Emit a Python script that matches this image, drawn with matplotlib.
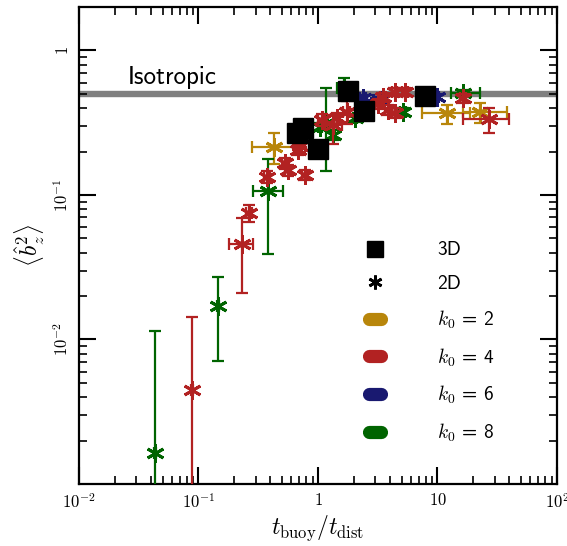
import os
import matplotlib
matplotlib.use("Agg")
import matplotlib.pyplot as plt
import numpy as np
from matplotlib.lines import Line2D
from matplotlib import font_manager

plt.rcParams['mathtext.fontset'] = 'cm'
cmss_path = os.path.join(matplotlib.get_data_path(), 'fonts', 'ttf', 'cmss10.ttf')
font_manager.fontManager.addfont(cmss_path)
SANS = ['cmss10', 'DejaVu Sans']
plt.rcParams['font.family'] = SANS

# ---------------- data ----------------
# 3D runs
x3d = [0.667, 0.749, 1.00, 1.78, 2.43, 7.86]
y3d = [0.269, 0.291, 0.208, 0.525, 0.382, 0.485]

# 2D runs, k0 = 2
k2_x    = [0.430, 11.9, 22.7]
k2_y    = [0.216, 0.368, 0.377]
k2_xlo  = [0.282, 7.4, 16.4]
k2_xhi  = [0.655, 18.7, 37.9]
k2_ylo  = [0.163, 0.310, 0.315]
k2_yhi  = [0.267, 0.420, 0.434]

# 2D runs, k0 = 4
k4_x   = [0.0877, 0.230, 0.266, 0.372, 0.529, 0.560, 0.684, 0.780, 0.706, 1.07, 1.34, 1.43, 1.74, 3.18, 3.50, 3.85, 4.41, 4.41, 5.35, 16.4, 27.1]
k4_y   = [0.00444, 0.0457, 0.0755, 0.134, 0.166, 0.149, 0.205, 0.138, 0.217, 0.331, 0.305, 0.340, 0.377, 0.427, 0.477, 0.388, 0.370, 0.516, 0.516, 0.467, 0.334]
k4_xlo = [0.0860, 0.181, 0.250, 0.350, 0.500, 0.530, 0.650, 0.740, 0.670, 1.00, 1.15, 1.35, 1.62, 3.00, 3.30, 3.65, 4.20, 4.20, 5.05, 15.5, 16.3]
k4_xhi = [0.0895, 0.284, 0.283, 0.395, 0.560, 0.590, 0.720, 0.820, 0.740, 1.15, 1.60, 1.52, 1.87, 3.37, 3.70, 4.05, 4.62, 4.62, 5.65, 17.3, 39.7]
k4_ylo = [0.0005, 0.0209, 0.0655, 0.122, 0.152, 0.136, 0.188, 0.127, 0.200, 0.300, 0.226, 0.310, 0.310, 0.395, 0.445, 0.355, 0.340, 0.485, 0.485, 0.435, 0.268]
k4_yhi = [0.0144, 0.0691, 0.0854, 0.146, 0.180, 0.162, 0.222, 0.150, 0.235, 0.362, 0.360, 0.370, 0.450, 0.460, 0.510, 0.420, 0.400, 0.548, 0.548, 0.500, 0.398]

# 2D runs, k0 = 6
k6_x   = [2.38, 2.88, 3.30, 9.84]
k6_y   = [0.470, 0.433, 0.455, 0.479]
k6_xlo = [2.25, 2.75, 3.15, 9.40]
k6_xhi = [2.50, 3.02, 3.45, 10.3]
k6_ylo = [0.450, 0.415, 0.435, 0.460]
k6_yhi = [0.490, 0.452, 0.475, 0.498]

# 2D runs, k0 = 8
k8_x   = [0.0433, 0.1466, 0.384, 1.167, 1.04, 1.34, 1.65, 2.04, 5.14, 16.4]
k8_y   = [0.00164, 0.0171, 0.1072, 0.315, 0.297, 0.260, 0.550, 0.340, 0.377, 0.506]
k8_xlo = [0.0425, 0.1440, 0.2875, 1.12, 1.00, 1.28, 1.45, 1.95, 4.90, 12.9]
k8_xhi = [0.0441, 0.1492, 0.507, 1.21, 1.08, 1.40, 2.00, 2.13, 5.40, 22.7]
k8_ylo = [0.0005, 0.00712, 0.0391, 0.1475, 0.280, 0.240, 0.470, 0.320, 0.355, 0.480]
k8_yhi = [0.0115, 0.0270, 0.177, 0.550, 0.315, 0.280, 0.645, 0.360, 0.400, 0.532]

iso_value = 0.5
xticks = [1e-2, 1e-1, 1, 10, 1e2]
xticklabels = [r'$10^{-2}$', r'$10^{-1}$', r'$1$', r'$10$', r'$10^{2}$']
yticks = [1e-2, 1e-1, 1]
yticklabels = [r'$10^{-2}$', r'$10^{-1}$', r'$1$']

colors = {2: '#B8860B', 4: '#B22222', 6: '#191970', 8: '#006400'}

# ---------------- figure ----------------
fig = plt.figure(figsize=(5.67, 5.46), dpi=100)
ax = fig.add_axes([79/567, 1-484/546, (557-79)/567, (484-7)/546])
ax.set_xscale('log')
ax.set_yscale('log')
ax.set_xlim(1e-2, 1e2)
ax.set_ylim(1e-3, 2)

ax.axhline(iso_value, color='#808080', lw=4.6, zorder=1)
ax.text(0.0257, 0.59, 'Isotropic', fontsize=18, ha='left', va='baseline', family=SANS)

asterisk = (6, 2, 0)

def draw(xs, ys, xlo, xhi, ylo, yhi, c, z):
    xs = np.array(xs); ys = np.array(ys)
    xerr = [xs - np.array(xlo), np.array(xhi) - xs]
    yerr = [ys - np.array(ylo), np.array(yhi) - ys]
    ax.errorbar(xs, ys, xerr=xerr, yerr=yerr, fmt='none', ecolor=c,
                elinewidth=1.6, capsize=4, capthick=1.6, zorder=z)
    ax.plot(xs, ys, ls='none', marker=asterisk, ms=13, mew=2.1, color=c, zorder=z)

draw(k2_x, k2_y, k2_xlo, k2_xhi, k2_ylo, k2_yhi, colors[2], 3)
draw(k6_x, k6_y, k6_xlo, k6_xhi, k6_ylo, k6_yhi, colors[6], 4)
draw(k8_x, k8_y, k8_xlo, k8_xhi, k8_ylo, k8_yhi, colors[8], 5)
draw(k4_x, k4_y, k4_xlo, k4_xhi, k4_ylo, k4_yhi, colors[4], 6)

ax.plot(x3d, y3d, ls='none', marker='s', ms=14.5, color='black', zorder=8)

# ticks
ax.set_xticks(xticks)
ax.set_xticklabels(xticklabels)
ax.set_yticks(yticks)
ax.set_yticklabels(yticklabels, rotation=90, va='center')
ax.tick_params(which='major', direction='in', length=12, width=1.5,
               top=True, right=True, labelsize=12, pad=6)
ax.tick_params(which='minor', direction='in', length=6, width=1.2,
               top=True, right=True)
for s in ax.spines.values():
    s.set_linewidth(1.6)

ax.set_xlabel(r'$t_{\mathrm{buoy}}/t_{\mathrm{dist}}$', fontsize=17, labelpad=2)
ax.set_ylabel(r'$\left\langle \hat{b}_z^2 \right\rangle$', fontsize=17, labelpad=4)

# legend
handles = [
    Line2D([], [], ls='none', marker='s', ms=11, color='black'),
    Line2D([], [], ls='none', marker=asterisk, ms=10, mew=2.0, color='black'),
]
labels = ['3D', '2D']
for k in [2, 4, 6, 8]:
    handles.append(Line2D([], [], color=colors[k], lw=9.5, solid_capstyle='round'))
    labels.append(r'$k_0$ = %d' % k)
leg = ax.legend(handles, labels, loc='center left', bbox_to_anchor=(0.607, 0.296),
                frameon=False, prop={'family': SANS, 'size': 14},
                handlelength=0.6, handletextpad=2.9,
                labelspacing=0.8, borderpad=0, borderaxespad=0)

fig.savefig('out.png', dpi=100)
